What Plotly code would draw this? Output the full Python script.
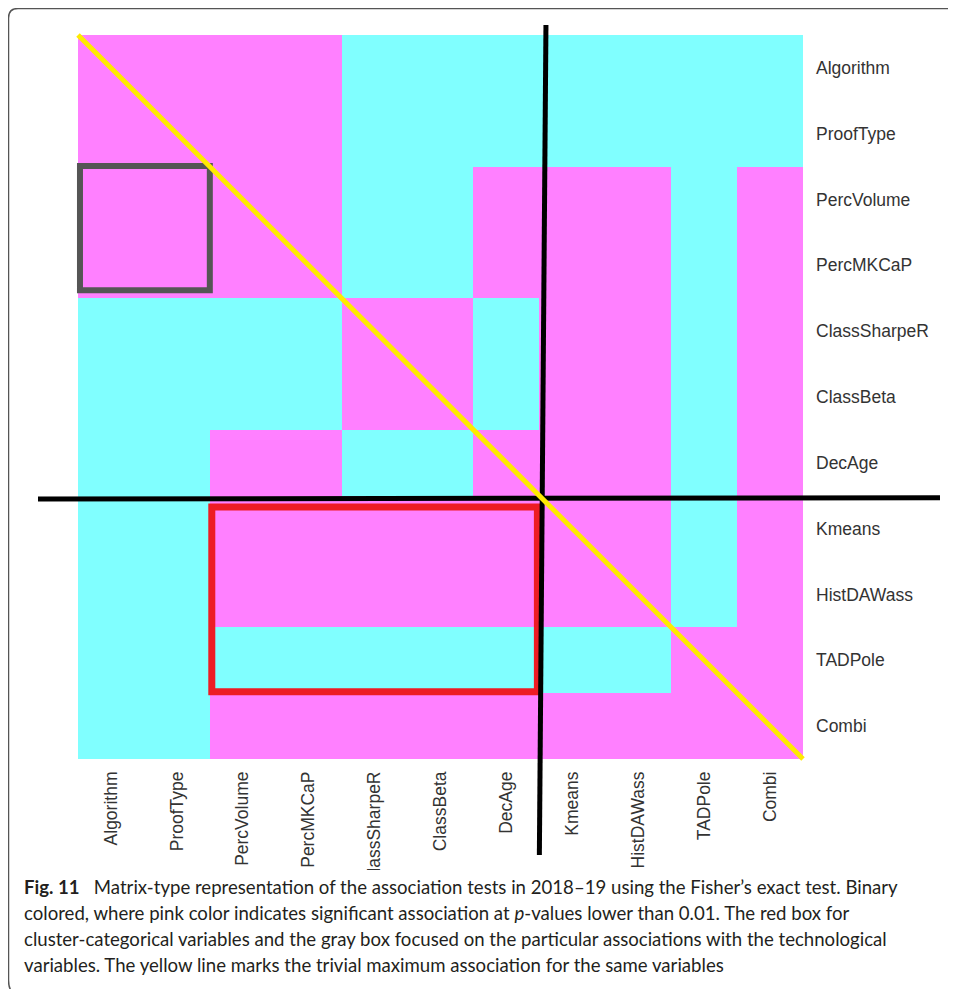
import plotly.graph_objects as go

variables = ["Algorithm", "ProofType", "PercVolume", "PercMKCaP", "ClassSharpeR",
             "ClassBeta", "DecAge", "Kmeans", "HistDAWass", "TADPole", "Combi"]

# 1 = significant association (p < 0.01, pink), 0 = not significant (cyan)
significant = [
    [1, 1, 1, 1, 0, 0, 0, 0, 0, 0, 0],
    [1, 1, 1, 1, 0, 0, 0, 0, 0, 0, 0],
    [1, 1, 1, 1, 0, 0, 1, 1, 1, 0, 1],
    [1, 1, 1, 1, 0, 0, 1, 1, 1, 0, 1],
    [0, 0, 0, 0, 1, 1, 0, 1, 1, 0, 1],
    [0, 0, 0, 0, 1, 1, 0, 1, 1, 0, 1],
    [0, 0, 1, 1, 0, 0, 1, 1, 1, 0, 1],
    [0, 0, 1, 1, 1, 1, 1, 1, 1, 0, 1],
    [0, 0, 1, 1, 1, 1, 1, 1, 1, 0, 1],
    [0, 0, 0, 0, 0, 0, 0, 0, 0, 1, 1],
    [0, 0, 1, 1, 1, 1, 1, 1, 1, 1, 1],
]

caption_lines = [
    "<b>Fig. 11</b>\u00a0\u00a0 Matrix-type representation of the association tests in 2018\u201319 using the Fisher\u2019s exact test. Binary",
    "colored, where pink color indicates significant association at <i>p</i>-values lower than 0.01. The red box for",
    "cluster-categorical variables and the gray box focused on the particular associations with the technological",
    "variables. The yellow line marks the trivial maximum association for the same variables",
]

# the page has an 8px body margin, so the figure starts 8px in from the
# top-left corner; only the left/top margins shift
OFF = 8
W, H = 956 - OFF, 989 - OFF
L, R, T, B = 78 - OFF, 153, 35 - OFF, 230
PW, PH = W - L - R, H - T - B
n = len(variables)


# page pixel -> paper
def px(x):
    return (x - OFF - L) / PW


def py(y):
    return (H - B - (y - OFF)) / PH


# cell index -> paper
def dx(v):
    return (v + 0.5) / n


def dy(v):
    return 1 - (v + 0.5) / n


fig = go.Figure(go.Heatmap(
    z=significant, x=variables, y=variables,
    colorscale=[[0, "#80FFFF"], [1, "#FF80FF"]],
    zmin=0, zmax=1, showscale=False, hoverinfo="skip",
))

split = variables.index("Kmeans") - 0.5
shapes = [
    # gray box: technological variables
    dict(type="rect", x0=dx(-0.47), x1=dx(variables.index("ProofType") + 0.5),
         y0=dy(variables.index("PercVolume") - 0.51), y1=dy(variables.index("PercMKCaP") + 0.38),
         line=dict(color="#555555", width=6)),
    # red box: cluster vs categorical
    dict(type="rect", x0=dx(variables.index("PercVolume") - 0.47), x1=dx(variables.index("DecAge") + 0.47),
         y0=dy(variables.index("Kmeans") - 0.33), y1=dy(variables.index("TADPole") + 0.48),
         line=dict(color="#ED1C24", width=7)),
    # black split lines
    dict(type="line", x0=dx(split + 0.1), y0=py(25), x1=dx(split), y1=py(855),
         line=dict(color="black", width=5)),
    dict(type="line", x0=px(38), y0=dy(split + 0.05), x1=px(940), y1=dy(split + 0.03),
         line=dict(color="black", width=5)),
    # yellow diagonal
    dict(type="line", x0=dx(-0.5), y0=dy(-0.5), x1=dx(n - 0.5), y1=dy(n - 0.5),
         line=dict(color="#FFEA00", width=5)),
    # caption panel covers the bottom of the long tick labels
    dict(type="rect", x0=px(9), x1=px(960), y0=py(870), y1=py(995),
         fillcolor="white", line=dict(width=0)),
    # figure frame
    dict(type="path", line=dict(color="#555555", width=1.5),
         path=f"M {px(13)} {py(993)} Q {px(8.5)} {py(989)} {px(8.5)} {py(980)} "
              f"L {px(8.5)} {py(18)} Q {px(8.5)} {py(8.5)} {px(18)} {py(8.5)} L {px(960)} {py(8.5)}"),
]
for s in shapes:
    s.setdefault("xref", "paper")
    s.setdefault("yref", "paper")
    s.setdefault("layer", "above")

annotations = []
for i, line in enumerate(caption_lines):
    annotations.append(dict(
        text=line, xref="paper", yref="paper", x=px(22), y=py(887 + 26 * i),
        xanchor="left", yanchor="middle", showarrow=False, align="left",
        font=dict(family="Lato", size=18.6, color="#231F20"),
    ))

fig.update_layout(
    width=W, height=H, margin=dict(l=L, r=R, t=T, b=B),
    paper_bgcolor="white", plot_bgcolor="white",
    shapes=shapes, annotations=annotations,
    font=dict(family="Liberation Sans, Arial", size=17.5, color="#333333"),
)
fig.update_xaxes(tickangle=-90, showgrid=False, zeroline=False, showline=False,
                 ticks="", ticklabelstandoff=8)
fig.update_yaxes(autorange="reversed", side="right", showgrid=False, zeroline=False,
                 showline=False, ticks="", ticklabelstandoff=12)

fig.write_html("out.html")
